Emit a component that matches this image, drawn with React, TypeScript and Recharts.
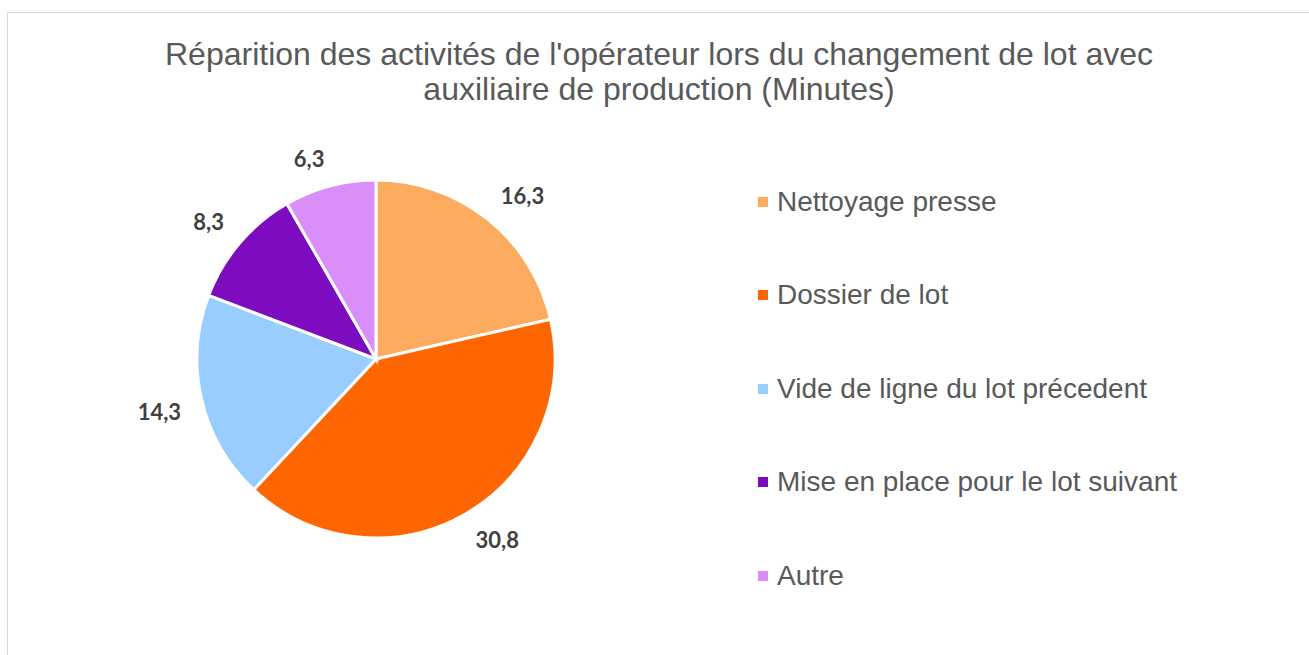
import { PieChart, Pie, Cell } from 'recharts';

const categories = [
  'Nettoyage presse',
  'Dossier de lot',
  'Vide de ligne du lot précedent',
  'Mise en place pour le lot suivant',
  'Autre',
];
const minutes = [16.3, 30.8, 14.3, 8.3, 6.3];
const colors = ['#FDAC5F', '#FF6600', '#99CCFF', '#7D0BC0', '#D98EFA'];

const data = categories.map((name, i) => ({ name, value: minutes[i] }));

const RAD = Math.PI / 180;

// outside labels, the box corner sits on a ring just outside the pie
const renderLabel = (props: any) => {
  const { cx, cy, midAngle, value } = props;
  const r = 200;
  const px = cx + r * Math.cos(-midAngle * RAD);
  const py = cy + r * Math.sin(-midAngle * RAD);
  const right = px >= cx;
  const top = py < cy;
  return (
    <text
      x={px}
      y={top ? py - 7.5 : py + 7.5}
      textAnchor={right ? 'start' : 'end'}
      dominantBaseline="central"
      fill="#404040"
      fontFamily="Lato, 'Open Sans', sans-serif"
      fontWeight={700}
      fontSize={22}
    >
      {value.toFixed(1).replace('.', ',')}
    </text>
  );
};

export default function App() {
  return (
    <div
      style={{
        position: 'fixed',
        left: 0,
        top: 0,
        width: 1309,
        height: 655,
        overflow: 'hidden',
        background: '#fff',
      }}
    >
      <div
        style={{
          position: 'absolute',
          left: 7,
          top: 12,
          width: 1340,
          height: 700,
          border: '1.5px solid #d9d9d9',
        }}
      />
      <div
        style={{
          position: 'absolute',
          left: 0,
          top: 37,
          width: 1318,
          textAlign: 'center',
          fontFamily: "'Liberation Sans', Arial, sans-serif",
          fontSize: 32,
          lineHeight: '35px',
          color: '#595959',
        }}
      >
        Réparition des activités de l'opérateur lors du changement de lot avec
        <br />
        auxiliaire de production (Minutes)
      </div>
      <div style={{ position: 'absolute', left: 0, top: 0 }}>
        <PieChart
          width={1309}
          height={655}
          margin={{ top: 0, right: 0, bottom: 0, left: 0 }}
        >
          <Pie
            data={data}
            dataKey="value"
            nameKey="name"
            cx={376}
            cy={359}
            outerRadius={179}
            startAngle={90}
            endAngle={-270}
            stroke="#fff"
            strokeWidth={3}
            label={renderLabel}
            labelLine={false}
            isAnimationActive={false}
          >
            {data.map((d, i) => (
              <Cell key={d.name} fill={colors[i]} />
            ))}
          </Pie>
        </PieChart>
      </div>
      <div
        style={{
          position: 'absolute',
          left: 758,
          top: 155,
          fontFamily: "'Liberation Sans', Arial, sans-serif",
        }}
      >
        {categories.map((name, i) => (
          <div
            key={name}
            style={{ height: 93.5, display: 'flex', alignItems: 'center' }}
          >
            <span
              style={{
                width: 10,
                height: 10,
                background: colors[i],
                display: 'inline-block',
                marginRight: 9,
              }}
            />
            <span
              style={{ fontSize: 28, color: '#595959', whiteSpace: 'nowrap' }}
            >
              {name}
            </span>
          </div>
        ))}
      </div>
    </div>
  );
}
